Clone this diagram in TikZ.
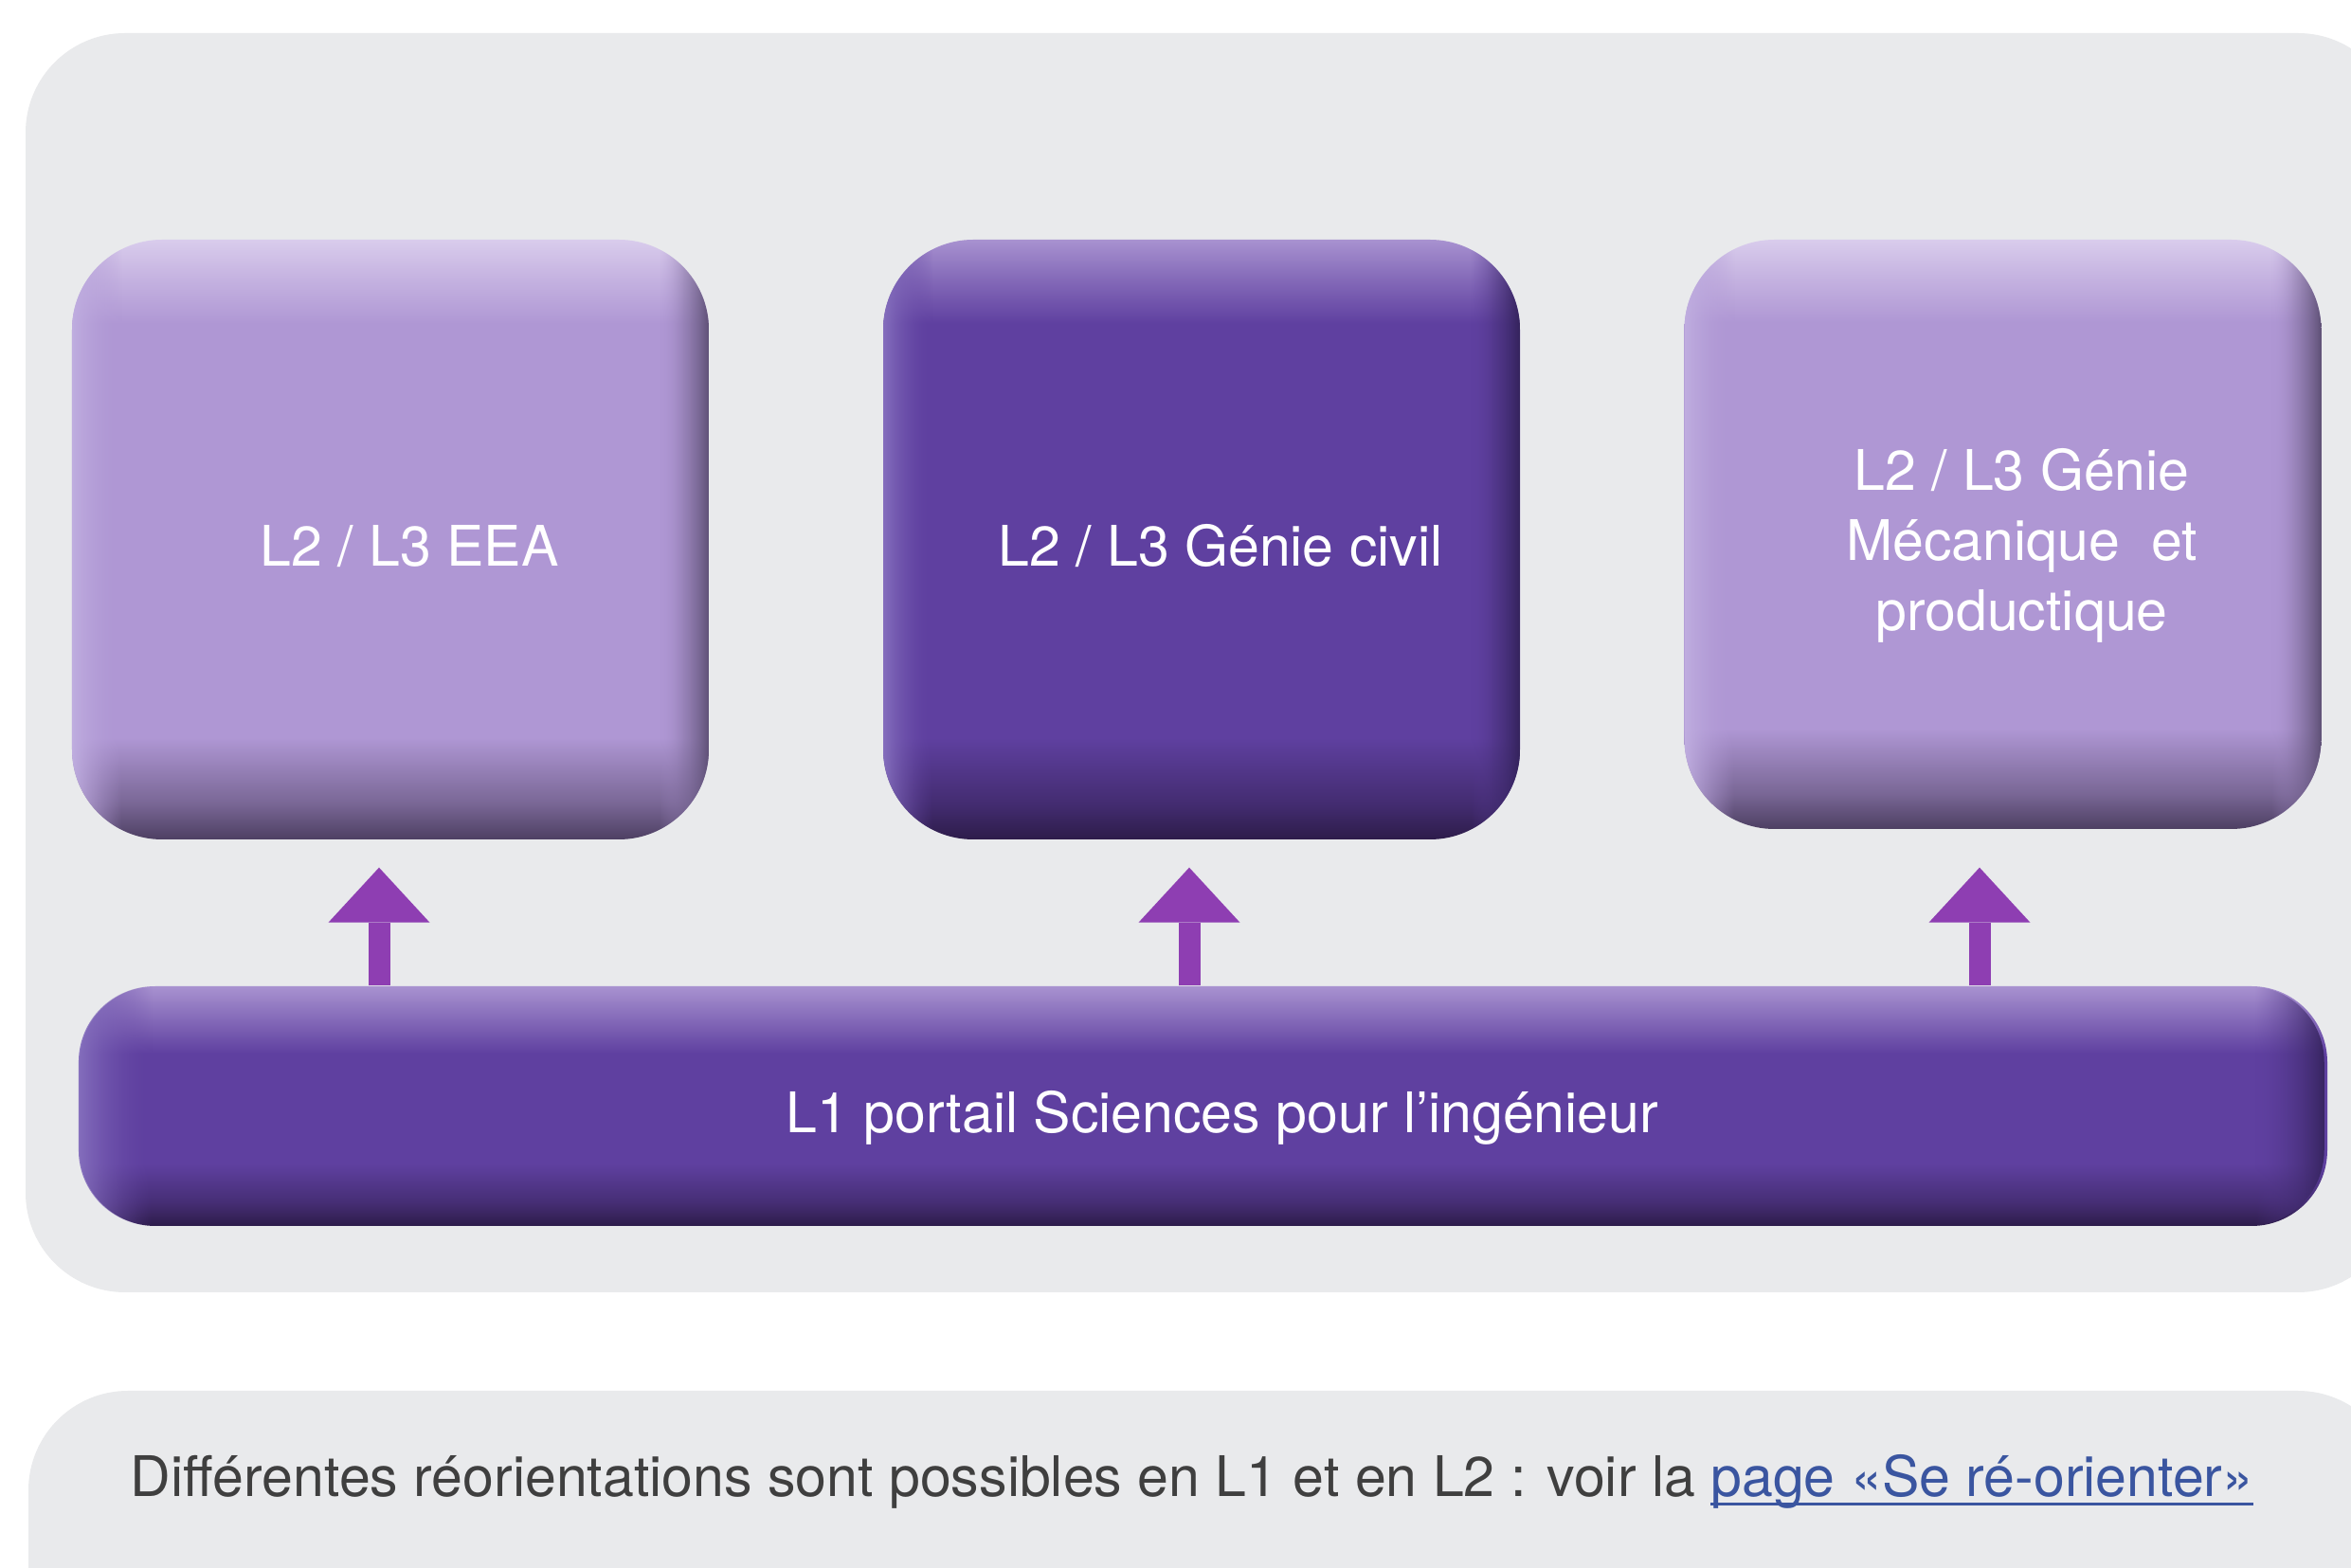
\documentclass[tikz,border=0pt]{standalone}
\usepackage{fontspec}
\setmainfont{TeX Gyre Heros}
\usetikzlibrary{arrows.meta,fadings}

\definecolor{fondgris}{HTML}{E9EAEC}
\definecolor{clair}{HTML}{AF97D4}
\definecolor{clairhaut}{HTML}{D9CCEC}
\definecolor{clairbas}{HTML}{4D3F62}
\definecolor{clairgauche}{HTML}{C0AEE0}
\definecolor{clairdroite}{HTML}{5D4F74}
\definecolor{fonce}{HTML}{5F40A0}
\definecolor{foncehaut}{HTML}{A892D0}
\definecolor{foncebas}{HTML}{2D1C4A}
\definecolor{foncegauche}{HTML}{8670BE}
\definecolor{foncedroite}{HTML}{33225A}
\definecolor{violetfleche}{HTML}{8E3EB2}
\definecolor{gristexte}{HTML}{3F3F3F}
\definecolor{bleulien}{HTML}{3A55A0}

% degrades des boites
\pgfdeclareverticalshading{clairv}{100bp}{color(0bp)=(clairbas); color(25bp)=(clairbas); color(28bp)=(clairbas!55!clair); color(33.5bp)=(clair); color(68bp)=(clair); color(72bp)=(clairhaut!55!clair); color(75bp)=(clairhaut); color(100bp)=(clairhaut)}
\pgfdeclarehorizontalshading{clairh}{100bp}{color(0bp)=(clairgauche); color(25bp)=(clairgauche); color(29bp)=(clair); color(71bp)=(clair); color(73bp)=(clairdroite!60!clair); color(75bp)=(clairdroite); color(100bp)=(clairdroite)}
\pgfdeclareverticalshading{foncev}{100bp}{color(0bp)=(foncebas); color(25bp)=(foncebas); color(28bp)=(foncebas!55!fonce); color(33.5bp)=(fonce); color(68bp)=(fonce); color(72bp)=(foncehaut!55!fonce); color(75bp)=(foncehaut); color(100bp)=(foncehaut)}
\pgfdeclarehorizontalshading{fonceh}{100bp}{color(0bp)=(foncegauche); color(25bp)=(foncegauche); color(29bp)=(fonce); color(71bp)=(fonce); color(73bp)=(foncedroite!60!fonce); color(75bp)=(foncedroite); color(100bp)=(foncedroite)}
\pgfdeclareverticalshading{portailv}{100bp}{color(0bp)=(foncebas); color(25bp)=(foncebas); color(30bp)=(foncebas!50!fonce); color(38bp)=(fonce); color(61bp)=(fonce); color(68bp)=(foncehaut!50!fonce); color(75bp)=(foncehaut); color(100bp)=(foncehaut)}
\pgfdeclarehorizontalshading{portailh}{100bp}{color(0bp)=(foncegauche); color(25bp)=(foncegauche); color(26.7bp)=(fonce); color(73.3bp)=(fonce); color(75bp)=(foncedroite); color(100bp)=(foncedroite)}

% masques des bords
\pgfdeclarehorizontalshading{bordsmasque}{100bp}{color(0bp)=(pgftransparent!0); color(25bp)=(pgftransparent!0); color(29bp)=(pgftransparent!100); color(71bp)=(pgftransparent!100); color(75bp)=(pgftransparent!0); color(100bp)=(pgftransparent!0)}
\pgfdeclarefading{bords}{\pgfuseshading{bordsmasque}}
\pgfdeclarehorizontalshading{bordsfinmasque}{100bp}{color(0bp)=(pgftransparent!0); color(25bp)=(pgftransparent!0); color(26.7bp)=(pgftransparent!100); color(73.3bp)=(pgftransparent!100); color(75bp)=(pgftransparent!0); color(100bp)=(pgftransparent!0)}
\pgfdeclarefading{bordsfin}{\pgfuseshading{bordsfinmasque}}

\newcommand{\lien}[1]{\textcolor{bleulien}{\sbox0{#1}\rlap{\rule[-0.16em]{\wd0}{0.05em}}\usebox0}}
\newcommand{\decale}[1]{\raisebox{-2.8mm}[0pt][0pt]{\hspace*{4mm}\begin{tabular}{@{}c@{}}#1\end{tabular}}}

\tikzset{
  texte/.style={font=\fontsize{16.8}{21}\selectfont},
  parcours/.style={texte, shade, rounded corners=9.5mm, minimum width=6.72cm, minimum height=6.33cm, text=white},
  clairbox/.style={parcours, shading=clairv, postaction={shade, shading=clairh, path fading=bords}},
  foncebox/.style={parcours, shading=foncev, postaction={shade, shading=fonceh, path fading=bords}},
  portail/.style={texte, shade, shading=portailv, rounded corners=8mm, minimum width=23.72cm, minimum height=2.53cm, text=white, postaction={shade, shading=portailh, path fading=bordsfin}},
  fleche/.style={violetfleche, line width=2.3mm, -{Triangle[width=10.7mm, length=5.8mm, line width=0pt]}, shorten >=2.9mm}
}

\begin{document}
\begin{tikzpicture}
\useasboundingbox (0,0) rectangle (24.81,-16.55);
\clip (0,0) rectangle (24.81,-16.55);
\fill[white] (0,0) rectangle (24.81,-16.55);

% fonds gris
\fill[fondgris, rounded corners=10.5mm] (0.27,-0.35) rectangle (25.3,-13.64);
\fill[fondgris, rounded corners=10.5mm] (0.30,-14.68) rectangle (25.3,-17.6);

% parcours L2 / L3
\node[clairbox] (eea) at (4.12,-5.695) {\decale{L2 / L3 EEA}};
\node[foncebox] (gc) at (12.68,-5.695) {\decale{L2 / L3 Génie civil}};
\node[clairbox, minimum height=6.22cm] (gm) at (21.135,-5.64) {\decale{L2 / L3 Génie\\Mécanique~\ et\\productique}};

% portail L1
\node[portail] (l1) at (12.70,-11.675) {\decale{L1 portail Sciences pour l’ingénieur}};

% fleches
\draw[fleche] ([xshift=-1.2mm]eea.south |- l1.north) -- ([xshift=-1.2mm]eea.south);
\draw[fleche] ([xshift=-1.3mm]gc.south |- l1.north) -- ([xshift=-1.3mm]gc.south);
\draw[fleche, shorten >=4mm] ([xshift=-2.45mm]gm.south |- l1.north) -- ([xshift=-2.45mm]gm.south);

% reorientations
\node[texte, anchor=base, text=gristexte] (reo) at (12.58,-15.80) {Différentes réorientations sont possibles en L1 et en L2 : voir la \lien{page «Se ré-orienter»}};
\end{tikzpicture}
\end{document}
